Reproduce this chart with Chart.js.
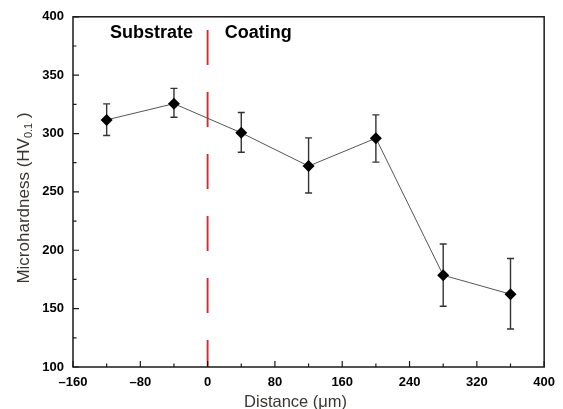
<!DOCTYPE html>
<html>
<head>
<meta charset="utf-8">
<script src="https://cdn.jsdelivr.net/npm/chart.js@4.4.1/dist/chart.umd.min.js"></script>
<style>
  html, body { margin: 0; padding: 0; background: #ffffff; }
  #wrap { width: 563px; height: 409px; }
</style>
</head>
<body>
<div id="wrap"><canvas id="c" width="563" height="409"></canvas></div>
<script>
// ---- data ----
const distances = [-120, -40, 40, 120, 200, 280, 360];           // µm
const hardness  = [311.7, 325.6, 300.6, 272.1, 296.0, 178.6, 162.4]; // HV0.1
const errTop    = [325.4, 338.7, 318.0, 296.3, 316.0, 205.4, 192.9];
const errBottom = [298.3, 313.9, 284.0, 249.0, 275.5, 152.1, 132.5];

const xTicks = [-160, -80, 0, 80, 160, 240, 320, 400];
const yTicks = [100, 150, 200, 250, 300, 350, 400];

const interfaceX = 0;        // substrate / coating boundary
const interfaceTop = 388.6;  // top end of the dashed line

const regionLabels = ['Substrate', 'Coating'];
const regionLabelX = [-116, 20.5];
const regionLabelY = [381.5, 381.5];

const xTitle = 'Distance (\u03bcm)';
const yTitleMain = 'Microhardness (HV';
const yTitleSub = '0.1';
const yTitleEnd = ')';

const FONT = '"Liberation Sans", Arial, Helvetica, sans-serif';

const points = distances.map((d, i) => ({ x: d, y: hardness[i] }));

const decorPlugin = {
  id: 'decor',
  beforeDatasetsDraw(chart) {
    const { ctx, scales: { x, y } } = chart;
    // error bars
    ctx.save();
    ctx.strokeStyle = '#333333';
    ctx.lineWidth = 1.4;
    distances.forEach((d, i) => {
      const px = x.getPixelForValue(d);
      const t = y.getPixelForValue(errTop[i]);
      const b = y.getPixelForValue(errBottom[i]);
      ctx.beginPath();
      ctx.moveTo(px, t); ctx.lineTo(px, b);
      ctx.moveTo(px - 3.5, t); ctx.lineTo(px + 3.5, t);
      ctx.moveTo(px - 3.5, b); ctx.lineTo(px + 3.5, b);
      ctx.stroke();
    });
    ctx.restore();
    // dashed interface line
    ctx.save();
    ctx.strokeStyle = '#ee1c24';
    ctx.lineWidth = 1.8;
    ctx.setLineDash([35, 27]);
    const ix = x.getPixelForValue(interfaceX);
    ctx.beginPath();
    ctx.moveTo(ix, y.getPixelForValue(interfaceTop));
    ctx.lineTo(ix, y.getPixelForValue(y.min));
    ctx.stroke();
    ctx.restore();
  },
  afterDraw(chart) {
    const { ctx, chartArea: a, scales: { x, y } } = chart;
    ctx.save();
    // frame
    ctx.strokeStyle = '#1a1a1a';
    ctx.lineWidth = 1.5;
    ctx.strokeRect(a.left, a.top, a.right - a.left, a.bottom - a.top);
    // inward ticks
    ctx.lineWidth = 1.2;
    ctx.beginPath();
    for (let i = 0; i < xTicks.length; i++) {
      const px = x.getPixelForValue(xTicks[i]);
      ctx.moveTo(px, a.bottom); ctx.lineTo(px, a.bottom - 6);
      if (i < xTicks.length - 1) {
        const mx = x.getPixelForValue((xTicks[i] + xTicks[i + 1]) / 2);
        ctx.moveTo(mx, a.bottom); ctx.lineTo(mx, a.bottom - 3.5);
      }
    }
    for (let i = 0; i < yTicks.length; i++) {
      const py = y.getPixelForValue(yTicks[i]);
      ctx.moveTo(a.left, py); ctx.lineTo(a.left + 6, py);
      if (i < yTicks.length - 1) {
        const my = y.getPixelForValue((yTicks[i] + yTicks[i + 1]) / 2);
        ctx.moveTo(a.left, my); ctx.lineTo(a.left + 3.5, my);
      }
    }
    ctx.stroke();

    // region labels
    ctx.fillStyle = '#000000';
    ctx.font = 'bold 18px ' + FONT;
    ctx.textBaseline = 'alphabetic';
    ctx.textAlign = 'left';
    regionLabels.forEach((t, i) => {
      ctx.fillText(t, x.getPixelForValue(regionLabelX[i]), y.getPixelForValue(regionLabelY[i]));
    });

    // x title
    ctx.fillStyle = '#3a3530';
    ctx.font = '16.5px ' + FONT;
    ctx.textAlign = 'center';
    ctx.fillText(xTitle, (a.left + a.right) / 2 - 13, 406.5);

    // y title with subscript
    const mainFont = '17px ' + FONT;
    const subFont = '11px ' + FONT;
    ctx.font = mainFont;
    const w1 = ctx.measureText(yTitleMain).width;
    const w3 = ctx.measureText(' ' + yTitleEnd).width;
    ctx.font = subFont;
    const w2 = ctx.measureText(yTitleSub).width;
    const total = w1 + w2 + w3;
    ctx.translate(28.5, 198);
    ctx.rotate(-Math.PI / 2);
    ctx.textAlign = 'left';
    let sx = -total / 2;
    ctx.font = mainFont;
    ctx.fillText(yTitleMain, sx, 0);
    sx += w1;
    ctx.font = subFont;
    ctx.fillText(yTitleSub, sx, 3.5);
    sx += w2;
    ctx.font = mainFont;
    ctx.fillText(' ' + yTitleEnd, sx, 0);
    ctx.restore();
  }
};

new Chart(document.getElementById('c'), {
  type: 'line',
  data: {
    datasets: [{
      data: points,
      borderColor: '#555555',
      borderWidth: 1,
      pointStyle: 'rectRot',
      pointRadius: 6,
      pointHoverRadius: 6,
      pointBackgroundColor: '#000000',
      pointBorderColor: '#000000',
      pointBorderWidth: 0,
      tension: 0,
      fill: false
    }]
  },
  options: {
    responsive: false,
    animation: false,
    devicePixelRatio: 1,
    layout: { padding: { top: 16, right: 18, left: 0, bottom: 0 } },
    plugins: { legend: { display: false }, tooltip: { enabled: false } },
    scales: {
      x: {
        type: 'linear',
        min: xTicks[0],
        max: xTicks[xTicks.length - 1],
        afterBuildTicks(scale) { scale.ticks = xTicks.map(v => ({ value: v })); },
        grid: { display: false, drawTicks: false },
        border: { display: false },
        ticks: {
          padding: 8,
          color: '#000000',
          font: { family: FONT, size: 13, weight: 'bold' },
          maxRotation: 0,
          callback: v => (v < 0 ? '\u2013' + Math.abs(v) : String(v))
        },
        afterFit(scale) { scale.height = 42; }
      },
      y: {
        type: 'linear',
        min: yTicks[0],
        max: yTicks[yTicks.length - 1],
        afterBuildTicks(scale) { scale.ticks = yTicks.map(v => ({ value: v })); },
        grid: { display: false, drawTicks: false },
        border: { display: false },
        ticks: {
          padding: 9,
          color: '#000000',
          font: { family: FONT, size: 13, weight: 'bold' }
        },
        afterFit(scale) { scale.width = 73; }
      }
    }
  },
  plugins: [decorPlugin]
});
</script>
</body>
</html>
